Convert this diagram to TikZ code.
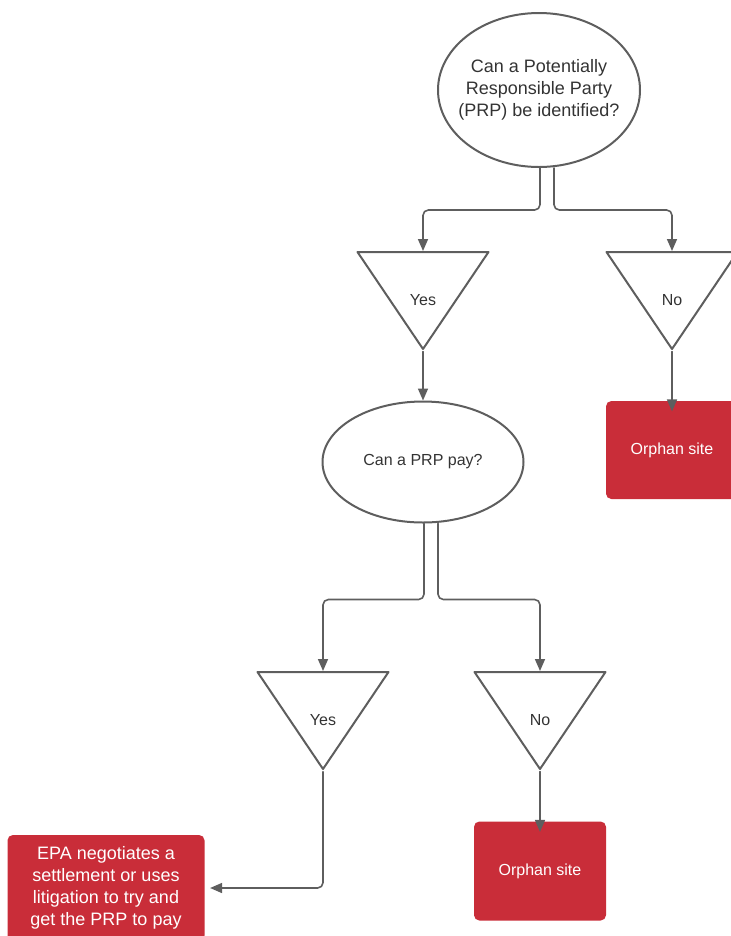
\documentclass[tikz,border=0pt]{standalone}
\usepackage{fontspec}
\setmainfont{Liberation Sans}
\usetikzlibrary{arrows.meta, calc, shapes.geometric}
\definecolor{sitered}{HTML}{C92D39}
\definecolor{linegray}{HTML}{5E5E5E}
\definecolor{textgray}{HTML}{333333}

\begin{document}
\begin{tikzpicture}[x=0.75pt, y=-0.75pt, >={Triangle[length=9pt,width=7.5pt]},
	line cap=round, line join=round,
	bigtext/.style={font=\fontsize{13.5pt}{16.5pt}\selectfont},
	smalltext/.style={font=\fontsize{12pt}{15pt}\selectfont},
	question/.style={ellipse, draw=linegray, line width=1.5pt, text=textgray,
		align=center, inner sep=0pt},
	answer/.style={isosceles triangle, isosceles triangle stretches,
		shape border rotate=270, draw=linegray, line width=1.5pt,
		inner sep=0pt, minimum width=98.25pt, minimum height=72.75pt, anchor=north,
		label={[smalltext, text=textgray, anchor=center, yshift=-36.75pt]north:#1}},
	outcome/.style={rectangle, rounded corners=4pt, fill=sitered, text=white,
		align=center, inner sep=0pt},
	conn/.style={->, draw=linegray, line width=1.2pt, rounded corners=4pt}]

\useasboundingbox (0,0) rectangle (731,936);

% ===== Top: can a PRP be identified? =====
\begin{scope}
	\node[question, bigtext, inner xsep=-10pt, minimum width=151.5pt, minimum height=115.5pt]
	(q1) at (539,90) {Can a Potentially\\Responsible Party\\(PRP) be identified?};
	
	\node[answer=Yes] (yes1) at (423,251) {};
	\node[answer=No] (no1) at (672,251) {};
	
	\node[outcome, smalltext, minimum width=99pt, minimum height=73.5pt]
	(orphan1) at (672,450) {Orphan site};
	
	\draw[conn] ([xshift=0.75pt]q1.south) -- ++(0,42) -| (yes1.north);
	\draw[conn] ([xshift=11.25pt]q1.south) -- ++(0,42) -| (no1.north);
	\draw[conn] (no1.apex) -- ([yshift=-8pt]orphan1.north);
\end{scope}

% ===== Bottom: can a PRP pay? =====
\begin{scope}
	\node[question, smalltext, minimum width=150.75pt, minimum height=90.75pt]
	(q2) at (423,462) {Can a PRP pay?};
	
	\node[answer=Yes] (yes2) at (323,671) {};
	\node[answer=No] (no2) at (540,671) {};
	
	\node[outcome, bigtext, minimum width=147.75pt, minimum height=79.5pt]
	(epa) at (106,888) {EPA negotiates a\\settlement or uses\\litigation to try and\\get the PRP to pay};
	\node[outcome, smalltext, minimum width=99pt, minimum height=74.25pt]
	(orphan2) at (540,871) {Orphan site};
	
	\draw[conn] (yes1.apex) -- (q2.north);
	\draw[conn] ([xshift=0.75pt]q2.south) -- ++(0,76) -| (yes2.north);
	\draw[conn] ([xshift=11.25pt]q2.south) -- ++(0,76) -| (no2.north);
	\draw[conn] (yes2.apex) |- ([xshift=4pt]epa.east);
	\draw[conn] (no2.apex) -- ([yshift=-8pt]orphan2.north);
\end{scope}

\end{tikzpicture}
\end{document}
